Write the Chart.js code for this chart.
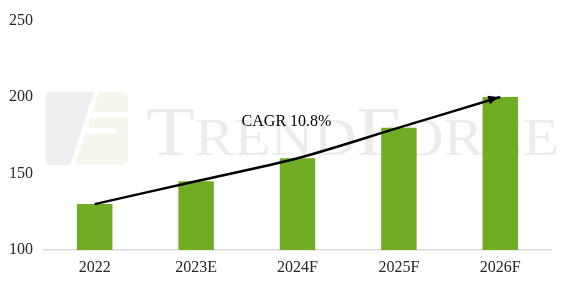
<!DOCTYPE html>
<html>
<head>
<meta charset="utf-8">
<script src="https://cdn.jsdelivr.net/npm/chart.js@4.4.0/dist/chart.umd.min.js"></script>
<style>
  html, body { margin: 0; padding: 0; background: #fff; }
  #wrap { width: 561px; height: 284px; }
</style>
</head>
<body>
<div id="wrap"><canvas id="myChart" width="561" height="284"></canvas></div>
<script>
const years = ['2022', '2023E', '2024F', '2025F', '2026F'];
const values = [130, 145, 160, 180, 200];
const cagrLabel = 'CAGR 10.8%';
const yTicks = [100, 150, 200, 250];

const serif = '"Liberation Serif", "Times New Roman", serif';

// faint TrendForce watermark behind the bars
const watermark = {
  id: 'watermark',
  beforeDatasetsDraw(chart) {
    const ctx = chart.ctx;
    ctx.save();
    // logo
    ctx.beginPath();
    ctx.roundRect(45, 92, 83, 73, 6);
    ctx.clip();
    ctx.fillStyle = '#efeff1';
    ctx.beginPath();
    ctx.moveTo(45, 92); ctx.lineTo(94, 92); ctx.lineTo(70, 165); ctx.lineTo(45, 165);
    ctx.fill();
    ctx.fillStyle = '#f3f7ee';
    ctx.beginPath();
    ctx.moveTo(99, 92); ctx.lineTo(128, 92); ctx.lineTo(128, 165); ctx.lineTo(75, 165);
    ctx.fill();
    ctx.fillStyle = '#ffffff';
    ctx.fillRect(88, 112, 40, 6);
    ctx.fillRect(84, 128, 32, 6);
    ctx.restore();

    // text, squeezed to the width it has in the source
    ctx.save();
    ctx.fillStyle = '#ececec';
    ctx.textBaseline = 'alphabetic';
    const parts = [['T', 70], ['REND', 52], ['F', 70], ['ORCE', 52]];
    let total = 0;
    parts.forEach(([t, s]) => {
      ctx.font = s + 'px ' + serif;
      total += ctx.measureText(t).width;
    });
    const left = 146, right = 559, base = 155;
    ctx.translate(left, base);
    ctx.scale((right - left) / total, 1);
    let x = 0;
    parts.forEach(([t, s]) => {
      ctx.font = s + 'px ' + serif;
      ctx.fillText(t, x, 0);
      x += ctx.measureText(t).width;
    });
    ctx.restore();
  }
};

// arrow head and CAGR label
const cagrArrow = {
  id: 'cagrArrow',
  afterDatasetsDraw(chart) {
    const meta = chart.getDatasetMeta(1);
    const pts = meta.data;
    const last = pts[pts.length - 1];
    const prev = pts[pts.length - 2];
    const ang = Math.atan2(last.y - prev.y, last.x - prev.x);
    const ctx = chart.ctx;
    ctx.save();
    ctx.translate(last.x - 2, last.y);
    ctx.rotate(ang);
    ctx.fillStyle = '#000';
    ctx.beginPath();
    ctx.moveTo(0, 0);
    ctx.lineTo(-10, -4.5);
    ctx.lineTo(-10, 4.5);
    ctx.closePath();
    ctx.fill();
    ctx.restore();

    ctx.save();
    ctx.font = '16px ' + serif;
    ctx.fillStyle = '#000';
    ctx.textAlign = 'center';
    ctx.textBaseline = 'middle';
    const xs = chart.scales.x;
    ctx.fillText(cagrLabel, xs.getPixelForValue(2) - 11, chart.scales.y.getPixelForValue(184));
    ctx.restore();
  }
};

const ctx = document.getElementById('myChart').getContext('2d');
const myChart = new Chart(ctx, {
  data: {
    labels: years,
    datasets: [{
      type: 'bar',
      data: values,
      backgroundColor: '#71AD24',
      barPercentage: 0.7,
      categoryPercentage: 0.5,
      order: 2
    }, {
      type: 'line',
      data: values,
      borderColor: '#000',
      borderWidth: 2.5,
      pointRadius: 0,
      tension: 0.3,
      fill: false,
      order: 1
    }]
  },
  options: {
    responsive: false,
    animation: false,
    layout: { padding: { top: 18, right: 10, left: 0, bottom: 0 } },
    plugins: { legend: { display: false }, tooltip: { enabled: false } },
    scales: {
      x: {
        grid: { display: false, drawTicks: false },
        border: { display: true, color: '#d9d9d9', width: 1.5 },
        ticks: { color: '#262626', font: { family: serif, size: 16 }, padding: 8 },
        afterFit(s) { s.height = 34; }
      },
      y: {
        min: 100,
        max: 250,
        afterBuildTicks(s) { s.ticks = yTicks.map(v => ({ value: v })); },
        grid: { display: false, drawTicks: false },
        border: { display: false },
        ticks: { color: '#262626', font: { family: serif, size: 16 }, padding: 11 },
        afterFit(s) { s.width = 44; }
      }
    }
  },
  plugins: [watermark, cagrArrow]
});
</script>
</body>
</html>
